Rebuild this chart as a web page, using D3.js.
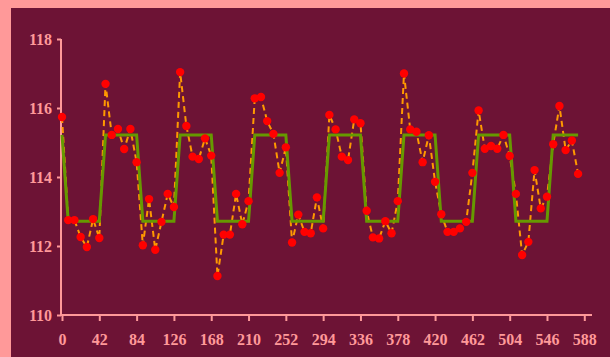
<!DOCTYPE html>
<html>
<head>
<meta charset="utf-8">
<script src="https://cdn.jsdelivr.net/npm/d3@7"></script>
<style>
  html, body { margin: 0; padding: 0; background: #FF9999; }
  svg { display: block; }
</style>
</head>
<body>
<svg id="chart" width="610" height="357"></svg>
<script>
// ---- data ----
const xValues = [0,7,14,21,28,35,42,49,56,63,70,77,84,91,98,105,112,119,126,133,140,147,154,161,168,175,182,189,196,203,210,217,224,231,238,245,252,259,266,273,280,287,294,301,308,315,322,329,336,343,350,357,364,371,378,385,392,399,406,413,420,427,434,441,448,455,462,469,476,483,490,497,504,511,518,525,532,539,546,553,560,567,574,581];
const observed = [115.74,112.75,112.75,112.26,111.97,112.78,112.23,116.70,115.22,115.39,114.81,115.39,114.43,112.02,113.36,111.89,112.70,113.51,113.13,117.04,115.48,114.59,114.52,115.12,114.62,111.13,112.33,112.33,113.51,112.63,113.30,116.28,116.32,115.62,115.25,114.12,114.86,112.10,112.91,112.41,112.37,113.41,112.51,115.80,115.38,114.59,114.49,115.67,115.56,113.02,112.25,112.22,112.72,112.37,113.30,117.00,115.38,115.31,114.43,115.21,113.86,112.92,112.41,112.41,112.51,112.70,114.12,115.93,114.82,114.90,114.82,115.22,114.61,113.51,111.74,112.12,114.20,113.09,113.43,114.95,116.06,114.78,115.06,114.09];
const model = [115.22,112.72,112.72,112.72,112.72,112.72,112.72,115.22,115.22,115.22,115.22,115.22,115.22,112.72,112.72,112.72,112.72,112.72,112.72,115.22,115.22,115.22,115.22,115.22,115.22,112.72,112.72,112.72,112.72,112.72,112.72,115.22,115.22,115.22,115.22,115.22,115.22,112.72,112.72,112.72,112.72,112.72,112.72,115.22,115.22,115.22,115.22,115.22,115.22,112.72,112.72,112.72,112.72,112.72,112.72,115.22,115.22,115.22,115.22,115.22,115.22,112.72,112.72,112.72,112.72,112.72,112.72,115.22,115.22,115.22,115.22,115.22,115.22,112.72,112.72,112.72,112.72,112.72,112.72,115.22,115.22,115.22,115.22,115.22];
const xTicks = [0,42,84,126,168,210,252,294,336,378,420,462,504,546,588];
const yTicks = [110,112,114,116,118];

// ---- chart ----
const svg = d3.select("#chart");
const pink = "#FF9999";
const font = "'Liberation Serif', 'Times New Roman', serif";

svg.append("rect").attr("x", 0).attr("y", 0).attr("width", 610).attr("height", 357).attr("fill", pink);
svg.append("rect").attr("x", 11).attr("y", 8).attr("width", 599).attr("height", 349).attr("fill", "#6D1335");

const x = d3.scaleLinear().domain([0, 588]).range([62, 584.3]);
const y = d3.scaleLinear().domain([110, 118]).range([315, 39]);

// axes
const xAxis = svg.append("g").attr("transform", "translate(0,315)")
  .call(d3.axisBottom(x).tickValues(xTicks).tickSize(6).tickSizeOuter(0).tickFormat(d3.format("d")));
xAxis.select(".domain").attr("d", "M61,0H592");
xAxis.selectAll(".tick text").attr("y", 18.5);

const yAxis = svg.append("g").attr("transform", "translate(61,0)")
  .call(d3.axisLeft(y).tickValues(yTicks).tickSize(4).tickSizeOuter(0).tickFormat(d3.format("d")));
yAxis.select(".domain").attr("d", "M0,315V39");
yAxis.selectAll(".tick text").attr("x", -9);

[xAxis, yAxis].forEach(g => {
  g.select(".domain").attr("stroke", pink).attr("stroke-width", 2);
  g.selectAll(".tick line").attr("stroke", pink).attr("stroke-width", 2);
  g.selectAll(".tick text").attr("fill", pink)
    .style("font-family", font).style("font-size", "16px").style("font-weight", "bold");
});

const pts = xValues.map((d, i) => ({x: d, o: observed[i], m: model[i]}));

// dashed orange line
svg.append("path").datum(pts)
  .attr("fill", "none").attr("stroke", "#FF9900").attr("stroke-width", 2)
  .attr("stroke-dasharray", "6,4")
  .attr("d", d3.line().x(d => x(d.x)).y(d => y(d.o)));

// green model line
svg.append("path").datum(pts)
  .attr("fill", "none").attr("stroke", "#669900").attr("stroke-width", 3)
  .attr("d", d3.line().x(d => x(d.x)).y(d => y(d.m)));

// red dots
svg.append("g").selectAll("circle").data(pts).join("circle")
  .attr("cx", d => x(d.x)).attr("cy", d => y(d.o)).attr("r", 4.2)
  .attr("fill", "#FF0000");
</script>
</body>
</html>
